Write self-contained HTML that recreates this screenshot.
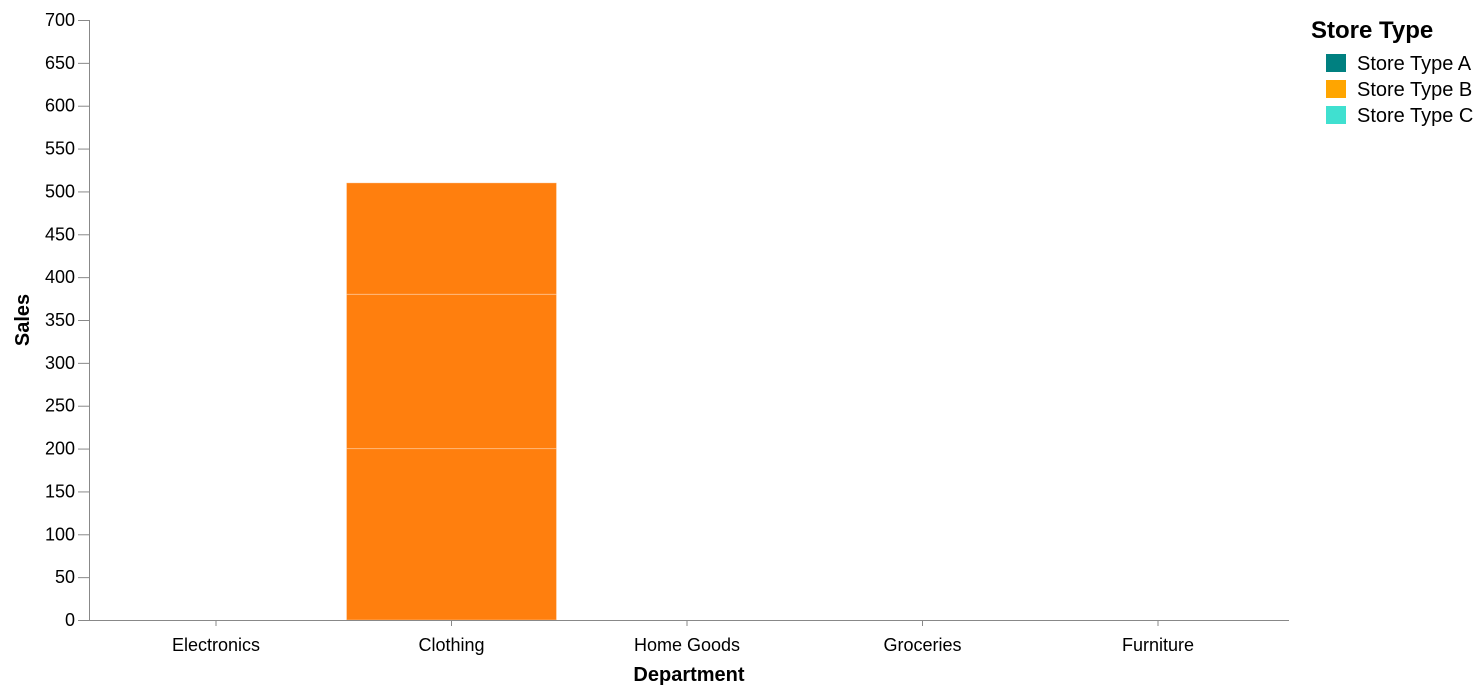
<!DOCTYPE html>
<html><head><meta charset="utf-8"><style>
body{margin:0;background:#fff;font-family:"Liberation Sans",Arial,sans-serif}
</style></head><body>
<svg id="chart" width="1484" height="694" xmlns="http://www.w3.org/2000/svg" font-family="Liberation Sans, Arial, sans-serif"></svg>
<script>
const categories = ["Electronics","Clothing","Home Goods","Groceries","Furniture"];
const seriesA = [0,200,0,0,0];
const seriesB = [0,180,0,0,0];
const seriesC = [0,130,0,0,0];
const yTicks = [0,50,100,150,200,250,300,350,400,450,500,550,600,650,700];
const legendLabels = ["Store Type A","Store Type B","Store Type C"];
const legendColors = ["#008080","#ffa500","#40e0d0"];

const svg = document.getElementById('chart');
const NS = "http://www.w3.org/2000/svg";
const L=89,R=1289,T=20,B=620,yMax=700;
const y = v => B - (v/yMax)*(B-T);
const step = 235.5;
const xc = i => (L+R)/2 - 2 + (i-(categories.length-1)/2)*step;
const barW = 210;
function mk(tag, attrs, text){const e=document.createElementNS(NS,tag);for(const k in attrs)e.setAttribute(k,attrs[k]);if(text!==undefined)e.textContent=text;svg.appendChild(e);return e;}

yTicks.forEach(t=>{
  const l=mk('line',{x1:L-11,x2:L,y1:y(t)+0.5,y2:y(t)+0.5,stroke:'#888'});
  
  
  const tx=mk('text',{x:L-14,y:y(t)+6,'text-anchor':'end','font-size':18,fill:'#000'},t);
  
  
});
const ya=mk('line',{x1:L+0.5,x2:L+0.5,y1:T,y2:B,stroke:'#888'});


const yt=mk('text',{x:29,y:(T+B)/2,'text-anchor':'middle','font-size':20,'font-weight':'bold',transform:`rotate(-90 29 ${(T+B)/2})`},'Sales');



categories.forEach((c,i)=>{
  let base=0;
  [seriesA,seriesB,seriesC].forEach((s,k)=>{
    const v=s[i];
    if(v>0){
      const r=mk('rect',{x:xc(i)-barW/2,width:barW,y:y(base+v),height:y(base)-y(base+v),fill:'#ff7f0e',stroke:'#fff','stroke-opacity':0.3,'stroke-width':1});
      
      
    }
    base+=v;
  });
});

const xa=mk('line',{x1:L,x2:R,y1:B+0.5,y2:B+0.5,stroke:'#888'});


categories.forEach((c,i)=>{
  const cx=xc(i);
  const l=mk('line',{x1:cx,x2:cx,y1:B,y2:B+6,stroke:'#888'});
  
  
  const t=mk('text',{x:cx,y:B+31,'text-anchor':'middle','font-size':18},c);
  
  
});
const xt=mk('text',{x:(L+R)/2,y:681,'text-anchor':'middle','font-size':20,'font-weight':'bold'},'Department');



const lt=mk('text',{x:1311,y:38,'font-size':24,'font-weight':'bold'},'Store Type');


legendLabels.forEach((lab,i)=>{
  const sw=mk('rect',{x:1326,y:54+i*26,width:20,height:18,fill:legendColors[i]});
  
  
  const t=mk('text',{x:1357,y:70+i*26,'font-size':20},lab);
  
  
});
</script>
</body></html>
